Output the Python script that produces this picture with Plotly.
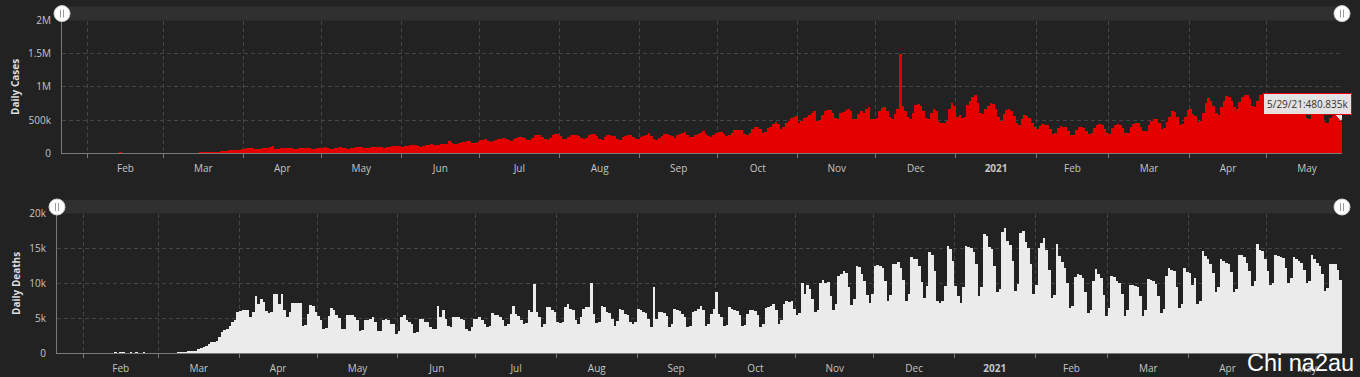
import pandas as pd
import plotly.graph_objects as go

# ---------------- data ----------------
START_DATE = "2020-01-22"

# daily new cases, thousands
c_2020_01 = [0.6, 0.1, 0.3, 0.5, 0.7, 0.8, 1.5, 1.2, 2.0, 1.7]
c_2020_02 = [2.1, 2.6, 2.8, 3.2, 3.7, 3.2, 3.4, 2.7, 3.0, 2.6, 2.0, 0.4, 15.1, 6.4, 2.1,
             2.6, 2.1, 1.9, 0.5, 0.6, 1.0, 1.0, 0.6, 0.8, 0.9, 0.9, 1.1, 1.4, 1.8]
c_2020_03 = [2.0, 1.8, 2.4, 2.5, 2.8, 4.0, 3.8, 3.6, 4.0, 4.5, 7.0, 7.5, 10.8, 10.9, 13.6,
             14.0, 15.8, 17.0, 28.0, 31.0, 29.6, 33.4, 40.2, 41.3, 48.0, 61.4, 63.8, 63.1,
             58.0, 59.9, 74.7]
c_2020_04 = [77, 80, 82, 81, 74, 69, 74, 84, 86, 90, 95, 112, 78, 71, 84, 92, 89, 83, 80, 76,
             77, 84, 85, 94, 87, 80, 69, 76, 85, 87]
c_2020_05 = [90, 95, 87, 77, 77, 86, 94, 97, 91, 84, 75, 86, 88, 99, 98, 96, 86, 87, 94, 103,
             107, 106, 104, 100, 93, 97, 106, 117, 121, 124, 112]
c_2020_06 = [110, 118, 122, 130, 130, 128, 115, 108, 120, 135, 138, 142, 140, 132, 128, 142,
             148, 150, 195, 165, 148, 150, 168, 175, 185, 190, 192, 170, 162, 175]
c_2020_07 = [210, 215, 225, 200, 185, 200, 215, 225, 228, 237, 228, 205, 200, 229, 232, 248,
             250, 240, 215, 205, 235, 280, 283, 285, 260, 225, 215, 240, 282, 292, 292]
c_2020_08 = [265, 225, 220, 250, 280, 290, 290, 268, 240, 218, 235, 280, 295, 305, 270, 222,
             215, 258, 278, 282, 275, 262, 218, 212, 250, 275, 282, 280, 260, 220, 230]
c_2020_09 = [260, 268, 285, 320, 265, 230, 210, 235, 275, 295, 305, 290, 262, 245, 285, 300,
             320, 325, 290, 248, 250, 285, 295, 315, 348, 305, 262, 250, 290, 315]
c_2020_10 = [330, 335, 300, 270, 280, 320, 355, 362, 362, 355, 295, 285, 320, 380, 400, 410,
             380, 320, 335, 390, 410, 450, 475, 445, 380, 400, 470, 500, 540, 555, 575]
c_2020_11 = [470, 490, 540, 560, 580, 620, 640, 500, 510, 580, 640, 660, 660, 610, 540, 530,
             610, 630, 660, 675, 640, 520, 530, 600, 640, 610, 680, 700, 520, 520]
c_2020_12 = [540, 640, 690, 700, 650, 560, 520, 600, 680, 1500, 720, 650, 560, 530, 620, 740,
             745, 720, 640, 540, 520, 620, 680, 640, 480, 470, 460, 500, 680, 770, 720]
c_2021_01 = [560, 580, 540, 560, 740, 800, 860, 880, 760, 620, 600, 680, 720, 760, 750, 680,
             560, 500, 600, 660, 680, 640, 570, 460, 440, 520, 580, 570, 540, 470, 400]
c_2021_02 = [380, 420, 450, 440, 430, 380, 300, 310, 390, 420, 410, 400, 340, 290, 290, 360,
             400, 410, 395, 350, 300, 310, 390, 430, 445, 430, 370, 310]
c_2021_03 = [300, 390, 440, 445, 430, 390, 310, 320, 400, 450, 470, 460, 410, 340, 340, 430,
             500, 530, 520, 460, 380, 390, 480, 560, 640, 630, 560, 430, 450, 560, 660]
c_2021_04 = [680, 600, 570, 480, 500, 620, 760, 840, 790, 720, 620, 590, 700, 800, 870, 860,
             800, 700, 680, 780, 860, 890, 880, 830, 720, 700, 800, 890, 905, 900]
c_2021_05 = [820, 700, 660, 750, 830, 870, 840, 770, 640, 620, 720, 760, 740, 720, 650, 540,
             520, 610, 640, 650, 640, 590, 480, 460, 540, 570, 590, 560, 480.835]

# daily deaths
d_2020_01 = [17, 1, 8, 16, 14, 26, 49, 2, 38, 42]
d_2020_02 = [46, 45, 57, 64, 66, 72, 70, 85, 87, 100, 107, 100, 254, 13, 143, 142, 106, 98,
             139, 115, 118, 109, 97, 150, 71, 64, 38, 57, 64]
d_2020_03 = [66, 73, 66, 82, 101, 102, 104, 230, 202, 272, 322, 381, 342, 444, 410, 732, 800,
             990, 1070, 1350, 1650, 1670, 1900, 2450, 3100, 3400, 3600, 4000, 4500, 4900, 6000]
d_2020_04 = [6100, 6200, 6300, 6200, 5200, 6000, 8300, 7100, 7800, 7400, 6100, 5900, 6000,
             8500, 8600, 7100, 8600, 6300, 5200, 6000, 7300, 7300, 7200, 7300, 4000, 4100,
             5700, 7000, 6900, 6000]
d_2020_05 = [5400, 4800, 3500, 3700, 5400, 6500, 6200, 5500, 5100, 3500, 3600, 5500, 5500,
             5500, 5300, 4800, 3300, 3400, 4800, 4900, 5000, 5200, 4500, 3300, 3200, 4900,
             5000, 4800, 4300, 4200, 2800]
d_2020_06 = [3200, 5200, 5500, 4900, 4600, 4200, 3000, 3100, 5000, 5000, 4600, 4500, 3900,
             3500, 3600, 6900, 5200, 6200, 5000, 4000, 3900, 5200, 5200, 5200, 5000, 4800,
             3600, 3300, 3800, 5000]
d_2020_07 = [5000, 5200, 4900, 4300, 3800, 4000, 5900, 5500, 5500, 5300, 4800, 4000, 4200,
             5700, 6800, 5700, 5400, 4800, 4200, 4400, 6300, 6000, 10000, 6000, 5200, 3800,
             4200, 6700, 6700, 6200, 6000]
d_2020_08 = [4600, 4400, 4600, 6700, 7100, 6400, 6200, 4800, 4300, 5200, 6400, 6700, 6700,
             10200, 5700, 4400, 4500, 6900, 6700, 6000, 5900, 5000, 4000, 4700, 6400, 6200,
             5700, 5600, 4600, 4300, 4500]
d_2020_09 = [6400, 6200, 6000, 5900, 5000, 3800, 9500, 5000, 6000, 6000, 5900, 5400, 3800,
             4300, 6400, 6200, 6100, 5700, 5200, 3800, 4000, 6000, 6100, 6400, 6900, 6200,
             4000, 4200, 5700, 6400]
d_2020_10 = [8800, 5700, 5200, 4000, 4100, 6700, 6400, 6300, 6100, 5600, 4000, 4100, 5700,
             6200, 6200, 6100, 5500, 3800, 4300, 6600, 6700, 6800, 7100, 6200, 4300, 4800,
             7100, 7600, 7400, 7500, 6400]
d_2020_11 = [5500, 5800, 10200, 8600, 9800, 9200, 7800, 6000, 6200, 10200, 10600, 10200,
             10300, 8300, 6300, 7100, 11200, 11400, 11900, 11600, 9600, 7000, 7800, 12600,
             12400, 11400, 10400, 8400, 7300, 8600]
d_2020_12 = [12600, 12700, 12600, 12300, 10400, 7500, 8400, 12800, 12900, 13100, 12300, 10500,
             7600, 8600, 13800, 13600, 13500, 12600, 10300, 8000, 9700, 14500, 14200, 11800,
             7600, 7200, 7600, 9700, 15400, 15000, 13300]
d_2021_01 = [9700, 8200, 7300, 9600, 15400, 15300, 15200, 14500, 12800, 8300, 9500, 17100,
             16900, 15300, 15000, 12600, 8800, 9300, 17400, 18000, 16100, 15500, 13300, 9000,
             10000, 17300, 17600, 16000, 15200, 12800, 8600]
d_2021_02 = [9900, 15200, 15800, 16600, 14900, 12000, 8000, 8400, 15700, 14000, 13200, 12300,
             10200, 6500, 6800, 11000, 11400, 11300, 10800, 8800, 5900, 6300, 10400, 12100,
             11400, 10900, 8400, 5400]
d_2021_03 = [6500, 11100, 11000, 10400, 10200, 8600, 5400, 6200, 9900, 9900, 9700, 9500, 8200,
             5400, 6200, 10700, 10500, 10400, 10000, 8300, 5900, 6400, 11100, 12300, 12000,
             11800, 9600, 6500, 7100, 12300, 11700]
d_2021_04 = [11600, 9800, 10800, 7100, 7600, 14700, 14000, 13600, 12800, 11500, 8800, 9500,
             13500, 13300, 13000, 12800, 11700, 8800, 9300, 14200, 14200, 13900, 13000, 11800,
             9700, 10400, 15700, 14900, 14700, 13500]
d_2021_05 = [11800, 9900, 10200, 14200, 14000, 13900, 13700, 12300, 10200, 10800, 13800, 13600,
             13300, 13000, 12000, 10200, 10400, 14200, 13500, 13000, 12500, 11400, 9000, 9400,
             12800, 12800, 12800, 12000, 10600]

# x-axis month labels (placed in the middle of each month)
MONTH_STARTS = ["2020-02-01", "2020-03-01", "2020-04-01", "2020-05-01", "2020-06-01",
                "2020-07-01", "2020-08-01", "2020-09-01", "2020-10-01", "2020-11-01",
                "2020-12-01", "2021-01-01", "2021-02-01", "2021-03-01", "2021-04-01",
                "2021-05-01", "2021-06-01"]
MONTH_LABELS = ["Feb", "Mar", "Apr", "May", "Jun", "Jul", "Aug", "Sep", "Oct", "Nov", "Dec",
                "<b>2021</b>", "Feb", "Mar", "Apr", "May"]

CASE_TICKS = [0, 500000, 1000000, 1500000, 2000000]
CASE_TICK_TEXT = ["0", "500k", "1M", "1.5M", "2M"]
DEATH_TICKS = [0, 5000, 10000, 15000, 20000]
DEATH_TICK_TEXT = ["0", "5k", "10k", "15k", "20k"]

# ---------------- assemble ----------------
cases_k = (c_2020_01 + c_2020_02 + c_2020_03 + c_2020_04 + c_2020_05 + c_2020_06 + c_2020_07
           + c_2020_08 + c_2020_09 + c_2020_10 + c_2020_11 + c_2020_12 + c_2021_01
           + c_2021_02 + c_2021_03 + c_2021_04 + c_2021_05)
deaths = (d_2020_01 + d_2020_02 + d_2020_03 + d_2020_04 + d_2020_05 + d_2020_06 + d_2020_07
          + d_2020_08 + d_2020_09 + d_2020_10 + d_2020_11 + d_2020_12 + d_2021_01
          + d_2021_02 + d_2021_03 + d_2021_04 + d_2021_05)
cases = [v * 1000 for v in cases_k]
dates = pd.date_range(START_DATE, periods=len(cases), freq="D")
x_end = dates[-1] + pd.Timedelta(days=1)
DAY_MS = 86400000

ms = pd.to_datetime(MONTH_STARTS)
mids = [ms[i] + (ms[i + 1] - ms[i]) / 2 for i in range(len(MONTH_LABELS))]

# ---------------- style ----------------
W, H = 1360, 377
BG = "#222222"
RED = "#e50000"
LIGHT = "#ebebeb"
GRID = "#444444"
AXIS = "#7a7a7a"
TICKC = "#c4c4c4"
FONT = "Open Sans"


def fx(p):
    return p / W


def fy(p):
    return 1 - p / H


TOP = dict(x0=62, x1=1342, y0=20.5, y1=153.3)
BOT = dict(x0=57, x1=1342, y0=213.5, y1=353.3)

fig = go.Figure()
fig.add_trace(go.Bar(x=dates, y=cases, xaxis="x", yaxis="y", offset=0, width=DAY_MS,
                     marker=dict(color=RED, line=dict(width=0)), hoverinfo="x+y"))
fig.add_trace(go.Bar(x=dates, y=deaths, xaxis="x2", yaxis="y2", offset=0, width=DAY_MS,
                     marker=dict(color=LIGHT, line=dict(width=0)), hoverinfo="x+y"))


def xaxis_cfg(box, anchor):
    return dict(domain=[fx(box["x0"]), fx(box["x1"])], anchor=anchor, type="date",
                range=[dates[0], x_end], tickmode="array", tickvals=mids,
                ticktext=MONTH_LABELS, ticks="", showgrid=False, showline=True,
                linecolor=AXIS, linewidth=1, zeroline=False, ticklabelstandoff=6,
                automargin=False,
                tickfont=dict(family=FONT, size=10, color=TICKC), fixedrange=True,
                minor=dict(tickmode="linear", tick0="2020-02-01", dtick="M1",
                           ticks="outside", ticklen=4, tickcolor=AXIS, showgrid=True,
                           gridcolor=GRID, griddash="4px,3px", gridwidth=1))


def yaxis_cfg(box, anchor, rng, tv, tt, title):
    return dict(domain=[fy(box["y1"]), fy(box["y0"])], anchor=anchor, range=rng,
                tickmode="array", tickvals=tv, ticktext=tt, ticks="", showgrid=True,
                gridcolor=GRID, griddash="4px,3px", gridwidth=1, zeroline=False,
                showline=True, linecolor=AXIS, linewidth=1, ticklabelstandoff=8,
                automargin=False,
                tickfont=dict(family=FONT, size=10, color=TICKC), fixedrange=True,
                title=dict(text="<b>" + title + "</b>", standoff=6,
                           font=dict(family=FONT, size=10, color="#dddddd")))


shapes = []
annotations = []
for box, cy in ((TOP, 13.6), (BOT, 207.0)):
    # scrollbar track
    shapes.append(dict(type="rect", xref="paper", yref="paper", layer="below",
                       x0=fx(box["x0"]), x1=fx(box["x1"]), y0=fy(box["y0"]), y1=fy(cy - 7),
                       fillcolor="#303030", line=dict(width=0)))
    # grips
    for hx in (box["x0"], box["x1"]):
        shapes.append(dict(type="circle", xref="paper", yref="paper",
                           x0=fx(hx - 8), x1=fx(hx + 8), y0=fy(cy + 8), y1=fy(cy - 8),
                           fillcolor="#ffffff", line=dict(color="#d0d0d0", width=1)))
        for dx in (-1.5, 1.5):
            shapes.append(dict(type="line", xref="paper", yref="paper",
                               x0=fx(hx + dx), x1=fx(hx + dx), y0=fy(cy - 4), y1=fy(cy + 4),
                               line=dict(color="#9a9a9a", width=1)))

# tooltip on last point of the cases series
last_x = dates[-1] + pd.Timedelta(hours=12)
last_v = cases[-1]
tip_text = f"{dates[-1].month}/{dates[-1].day}/{dates[-1].strftime('%y')}:{last_v / 1000:.3f}k"
annotations.append(dict(x=last_x, y=last_v, xref="x", yref="y", text=tip_text,
                        showarrow=False, xanchor="right", yanchor="bottom", xshift=11,
                        yshift=6, bgcolor="rgba(232,232,232,0.97)", bordercolor=RED,
                        borderwidth=1, borderpad=3,
                        font=dict(family=FONT, size=10, color="#333333")))
shapes.append(dict(type="path", xref="x", yref="y", xsizemode="pixel", ysizemode="pixel",
                   xanchor=last_x, yanchor=last_v, path="M -6,7 L 6,7 L 0,0 Z",
                   fillcolor="rgba(232,232,232,0.97)", line=dict(color=RED, width=1)))

# watermark
annotations.append(dict(x=fx(1356), y=fy(377), xref="paper", yref="paper", text="Chi na2au",
                        showarrow=False, xanchor="right", yanchor="bottom", yshift=-1,
                        font=dict(family="Liberation Sans", size=23.5, color="#ffffff")))

fig.update_layout(
    width=W, height=H, margin=dict(l=0, r=0, t=0, b=0, autoexpand=False),
    paper_bgcolor=BG, plot_bgcolor=BG, showlegend=False,
    bargap=0, bargroupgap=0, barmode="overlay",
    font=dict(family=FONT, color=TICKC),
    xaxis=xaxis_cfg(TOP, "y"),
    xaxis2=xaxis_cfg(BOT, "y2"),
    yaxis=yaxis_cfg(TOP, "x", [0, 2000000], CASE_TICKS, CASE_TICK_TEXT, "Daily Cases"),
    yaxis2=yaxis_cfg(BOT, "x2", [0, 20000], DEATH_TICKS, DEATH_TICK_TEXT, "Daily Deaths"),
    shapes=shapes, annotations=annotations,
)

fig.write_html("out.html", config={"displayModeBar": False})
